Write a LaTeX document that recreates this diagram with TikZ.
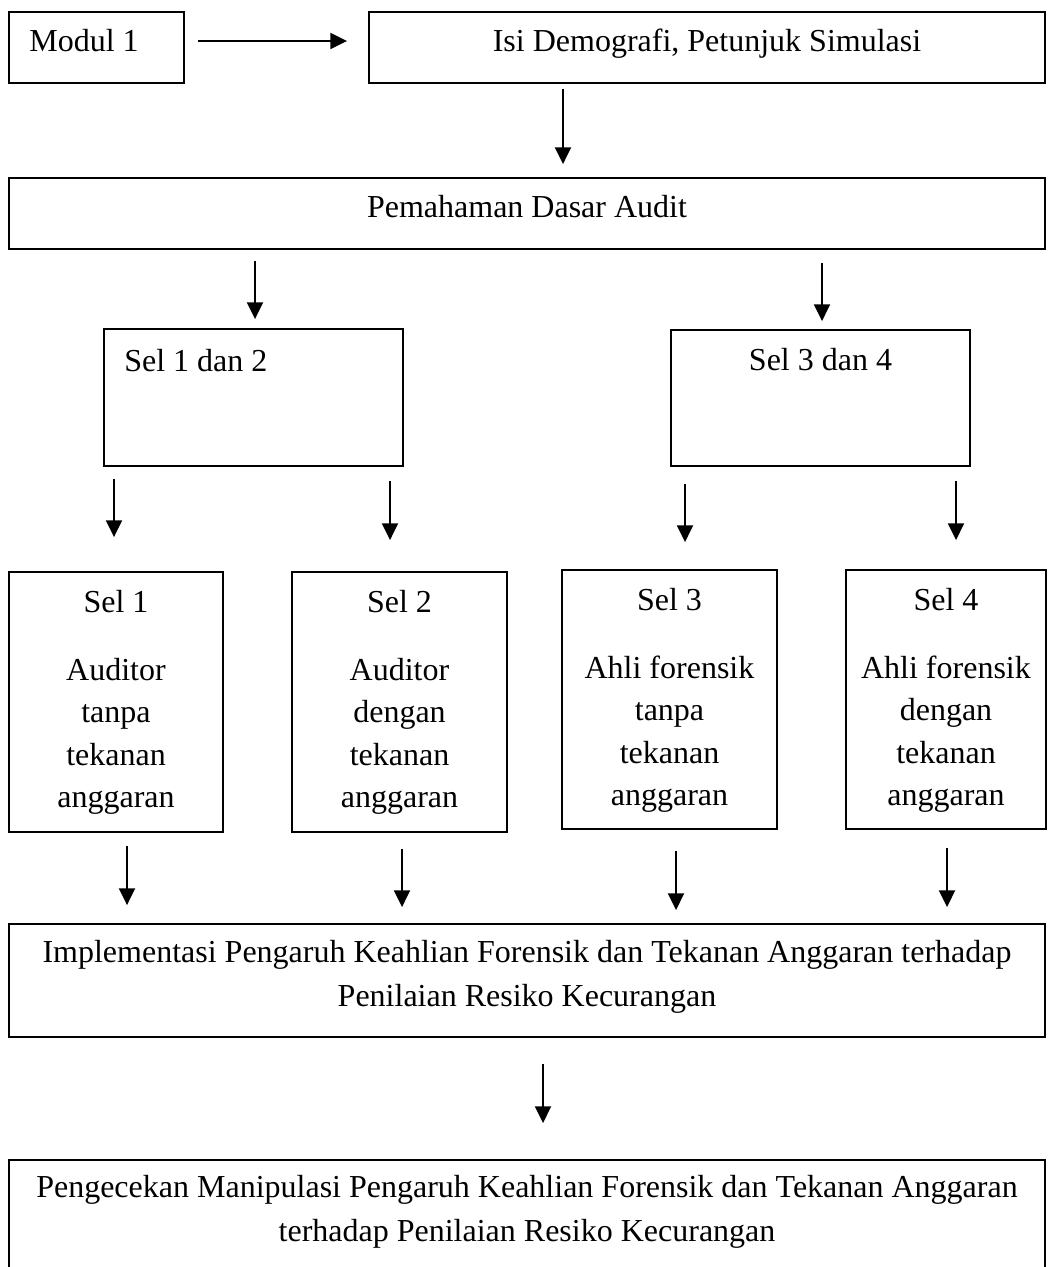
\documentclass[tikz,border=0pt]{standalone}
\usepackage{fontspec}
\setmainfont{Liberation Serif}
\usetikzlibrary{arrows.meta,calc}
\begin{document}
\begin{tikzpicture}[x=0.75pt,y=-0.75pt,
  box/.style={draw, line width=1.4pt, inner sep=0pt},
  txt/.style={font=\fontsize{24}{31.75}\selectfont, align=center, inner sep=0pt},
  wide/.style={font=\fontsize{24}{33}\selectfont, align=center, inner sep=0pt},
  arr/.style={-{Triangle[length=12.5pt,width=12pt]}, line width=1.5pt}]
\clip (0,0) rectangle (1048,1267);
\fill[white] (0,0) rectangle (1048,1267);

% top row
\node[box, minimum width=131.25pt, minimum height=53.25pt,
  label={[txt, anchor=base west, xshift=15.75pt, yshift=-30.5pt]north west:Modul 1}] (mod) at (96.5,47.5) {};
\node[box, minimum width=507pt, minimum height=53.25pt,
  label={[txt, anchor=base, yshift=-30.5pt]north:Isi Demografi, Petunjuk Simulasi}] (isi) at (707,47.5) {};

% pemahaman
\node[box, minimum width=777pt, minimum height=53.25pt,
  label={[txt, anchor=base, yshift=-30.5pt]north:Pemahaman Dasar Audit}] (pem) at (527,213.5) {};

% groups
\node[box, minimum width=224.25pt, minimum height=102.75pt,
  label={[txt, anchor=base west, xshift=15.75pt, yshift=-32.25pt]north west:Sel 1 dan 2}] (sel12) at (253.5,397.5) {};
\node[box, minimum width=224.25pt, minimum height=102pt,
  label={[txt, anchor=base, yshift=-30.75pt]north:Sel 3 dan 4}] (sel34) at (820.5,398) {};

% cells
\node[box, minimum width=160.5pt, minimum height=195pt,
  label={[txt, anchor=north, yshift=-14.25pt]north:Sel 1\\[19.25pt]Auditor\\tanpa\\tekanan\\anggaran}] (s1) at (116,702) {};
\node[box, minimum width=161.25pt, minimum height=195pt,
  label={[txt, anchor=north, yshift=-14.25pt]north:Sel 2\\[19.25pt]Auditor\\dengan\\tekanan\\anggaran}] (s2) at (399.5,702) {};
\node[box, minimum width=161.25pt, minimum height=194.25pt,
  label={[txt, anchor=north, yshift=-14.25pt]north:Sel 3\\[19.25pt]Ahli forensik\\tanpa\\tekanan\\anggaran}] (s3) at (669.5,699.5) {};
\node[box, minimum width=150pt, minimum height=194.25pt,
  label={[txt, anchor=north, yshift=-14.25pt]north:Sel 4\\[19.25pt]Ahli forensik\\dengan\\tekanan\\anggaran}] (s4) at (946,699.5) {};

% implementation
\node[box, minimum width=777pt, minimum height=84.75pt,
  label={[wide, anchor=north, yshift=-12.75pt]north:Implementasi Pengaruh Keahlian Forensik dan Tekanan Anggaran terhadap\\Penilaian Resiko Kecurangan}] (impl) at (527,980.5) {};

% check
\node[box, minimum width=777pt, minimum height=90pt,
  label={[wide, anchor=north, yshift=-12pt]north:Pengecekan Manipulasi Pengaruh Keahlian Forensik dan Tekanan Anggaran\\terhadap Penilaian Resiko Kecurangan}] (pen) at (527,1220) {};

% connectors
\draw[arr] ($(mod.east)+(13,-6.5)$) -- ($(isi.west)+(-21,-6.5)$);
\draw[arr] ($(isi.south)+(-144,5)$) -- ($(pem.north)+(36,-13)$);
\draw[arr] ($(pem.south)+(-272,11)$) -- ($(sel12.north)+(1.5,-9)$);
\draw[arr] ($(pem.south)+(295,13)$) -- ($(sel34.north)+(1.5,-8)$);
\draw[arr] ($(sel12.south)+(-139.5,12)$) -- ($(s1.north)+(-2,-34)$);
\draw[arr] ($(sel12.south)+(136.5,14)$) -- ($(s2.north)+(-9.5,-31)$);
\draw[arr] ($(sel34.south)+(-135.5,17)$) -- ($(s3.north)+(15.5,-27)$);
\draw[arr] ($(sel34.south)+(135.5,14)$) -- ($(s4.north)+(10,-29)$);
\draw[arr] ($(s1.south)+(11,13)$) -- ($(impl.north)+(-400,-18)$);
\draw[arr] ($(s2.south)+(2.5,16)$) -- ($(impl.north)+(-125,-16)$);
\draw[arr] ($(s3.south)+(6.5,21)$) -- ($(impl.north)+(149,-13)$);
\draw[arr] ($(s4.south)+(1,18)$) -- ($(impl.north)+(420,-16)$);
\draw[arr] ($(impl.south)+(16,26)$) -- ($(pen.north)+(16,-36)$);
\end{tikzpicture}
\end{document}
